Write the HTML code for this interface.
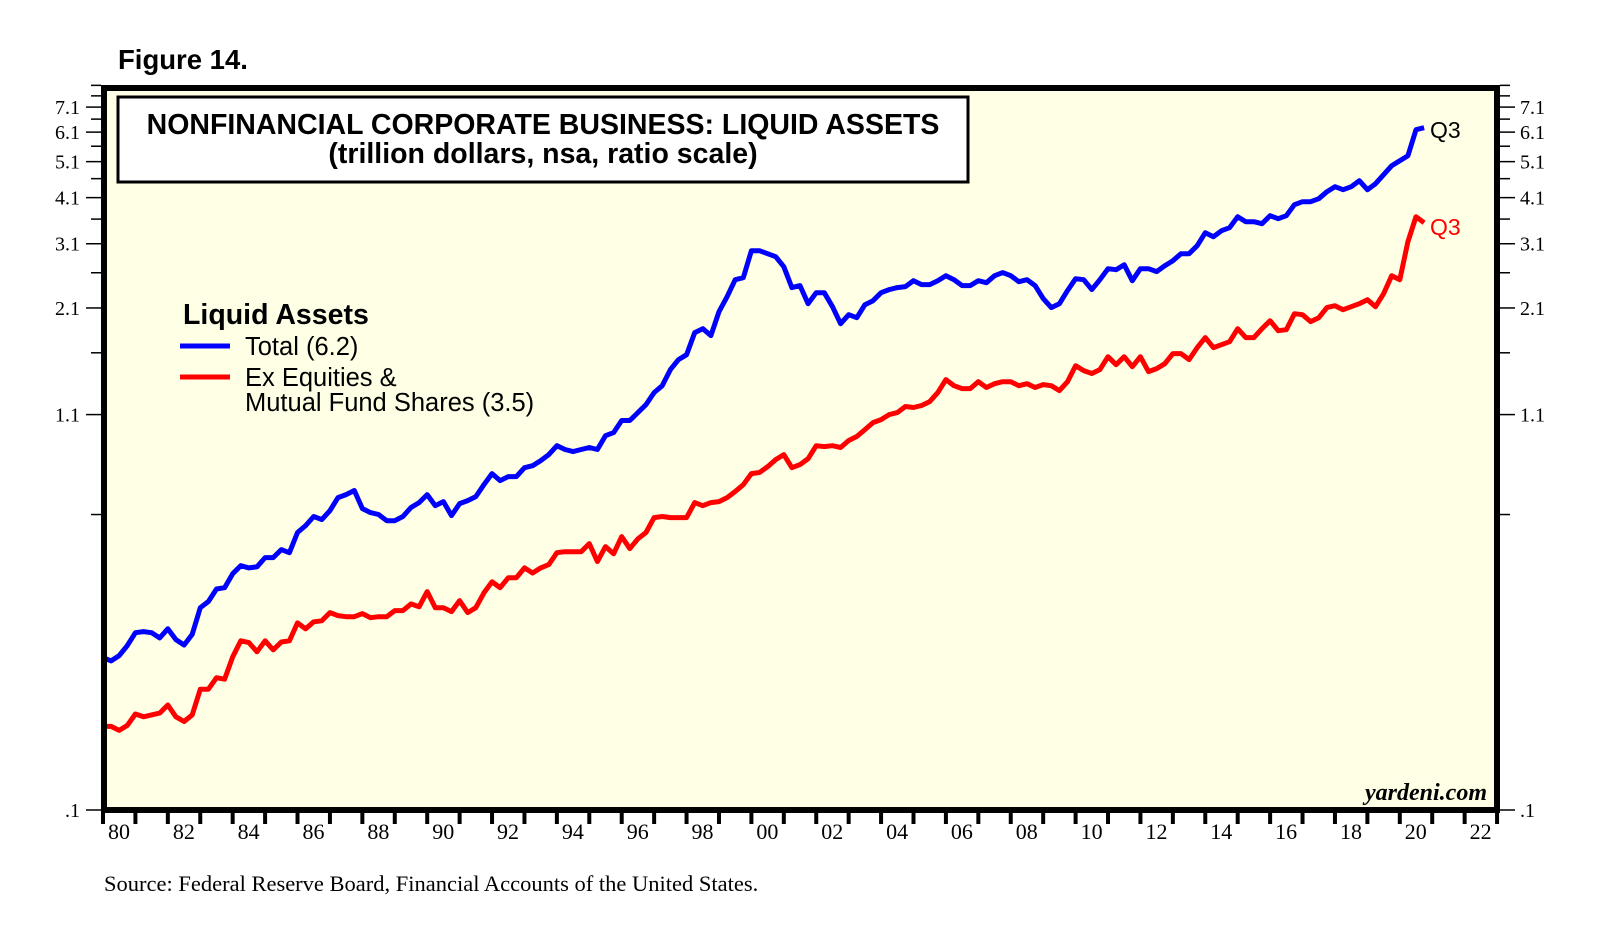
<!DOCTYPE html>
<html><head><meta charset="utf-8"><style>
html,body{margin:0;padding:0;background:#fff;}
svg{display:block;}
</style></head><body>
<svg id="chart" width="1616" height="944" viewBox="0 0 1616 944" xmlns="http://www.w3.org/2000/svg">
<text x="118" y="69" font-family="Liberation Sans, sans-serif" font-weight="bold" font-size="27.5">Figure 14.</text>
<rect x="104" y="88" width="1393" height="722" fill="#ffffe5" stroke="none"/>
<g id="grid"></g>
<g id="series"></g>
<rect x="104" y="88" width="1393" height="722" fill="none" stroke="#000" stroke-width="6"/>
<rect x="118" y="97" width="850" height="85" fill="#fff" stroke="#000" stroke-width="3"/>
<text x="543" y="134" text-anchor="middle" font-family="Liberation Sans, sans-serif" font-weight="bold" font-size="28.5">NONFINANCIAL CORPORATE BUSINESS: LIQUID ASSETS</text>
<text x="543" y="163" text-anchor="middle" font-family="Liberation Sans, sans-serif" font-weight="bold" font-size="28.5">(trillion dollars, nsa, ratio scale)</text>
<g font-family="Liberation Sans, sans-serif">
<text x="183" y="324" font-weight="bold" font-size="28.5">Liquid Assets</text>
<line x1="180" y1="346" x2="230" y2="346" stroke="#0000ff" stroke-width="5"/>
<text x="245" y="355" font-size="25.5">Total (6.2)</text>
<line x1="180" y1="377" x2="230" y2="377" stroke="#ff0000" stroke-width="5"/>
<text x="245" y="386" font-size="25.5">Ex Equities &amp;</text>
<text x="245" y="411" font-size="25.5">Mutual Fund Shares (3.5)</text>
</g>
<text x="1430" y="138" font-family="Liberation Sans, sans-serif" font-size="23" fill="#000">Q3</text>
<text x="1430" y="235" font-family="Liberation Sans, sans-serif" font-size="23" fill="#ff0000">Q3</text>
<text x="1487" y="800" text-anchor="end" font-family="Liberation Serif, serif" font-style="italic" font-weight="bold" font-size="24">yardeni.com</text>
<text x="104" y="891" font-family="Liberation Serif, serif" font-size="22.5">Source: Federal Reserve Board, Financial Accounts of the United States.</text>
</svg>
<script>
const startYear = 1980;
const yearTicks = [80,82,84,86,88,90,92,94,96,98,"00","02","04","06","08",10,12,14,16,18,20,22];
const yMajorTicks = [0.1,1.1,2.1,3.1,4.1,5.1,6.1,7.1];
const yMajorLabels = [".1","1.1","2.1","3.1","4.1","5.1","6.1","7.1"];
const yMinorTicks = [0.6,1.6,2.6,3.6,4.6,5.6,6.6,7.6,8.1];
const totalValues = [0.252,0.247,0.255,0.271,0.293,0.295,0.293,0.284,0.300,0.281,0.272,0.290,0.341,0.354,0.382,0.385,0.419,0.440,0.434,0.437,0.462,0.462,0.485,0.476,0.538,0.561,0.593,0.582,0.614,0.665,0.677,0.694,0.622,0.607,0.600,0.578,0.578,0.593,0.626,0.645,0.677,0.633,0.649,0.596,0.641,0.653,0.669,0.719,0.769,0.737,0.755,0.755,0.797,0.807,0.832,0.863,0.911,0.890,0.879,0.890,0.901,0.890,0.968,0.986,1.061,1.061,1.113,1.169,1.257,1.311,1.445,1.535,1.582,1.808,1.852,1.776,2.053,2.249,2.493,2.523,2.972,2.972,2.918,2.866,2.697,2.376,2.405,2.155,2.304,2.304,2.116,1.909,2.016,1.980,2.142,2.195,2.304,2.347,2.376,2.390,2.478,2.419,2.419,2.478,2.554,2.493,2.405,2.405,2.478,2.448,2.554,2.602,2.554,2.463,2.493,2.405,2.222,2.104,2.155,2.333,2.508,2.493,2.347,2.493,2.665,2.649,2.730,2.478,2.665,2.665,2.618,2.714,2.797,2.918,2.918,3.063,3.315,3.236,3.356,3.417,3.653,3.544,3.544,3.501,3.675,3.609,3.675,3.928,3.999,3.999,4.073,4.250,4.382,4.302,4.382,4.544,4.302,4.462,4.712,4.976,5.129,5.287,6.19,6.266];
const exEquityValues = [0.166,0.166,0.162,0.167,0.179,0.176,0.178,0.180,0.189,0.176,0.171,0.178,0.208,0.208,0.223,0.221,0.253,0.279,0.276,0.261,0.279,0.264,0.277,0.279,0.311,0.300,0.313,0.315,0.331,0.325,0.323,0.323,0.329,0.321,0.323,0.323,0.335,0.335,0.349,0.343,0.376,0.341,0.341,0.333,0.356,0.331,0.341,0.373,0.399,0.385,0.409,0.409,0.434,0.421,0.434,0.443,0.476,0.479,0.479,0.479,0.503,0.451,0.494,0.473,0.525,0.488,0.518,0.538,0.589,0.593,0.589,0.589,0.589,0.645,0.633,0.645,0.649,0.665,0.690,0.719,0.769,0.774,0.802,0.837,0.863,0.797,0.812,0.842,0.911,0.906,0.911,0.901,0.940,0.963,1.004,1.048,1.067,1.100,1.113,1.155,1.148,1.162,1.190,1.257,1.360,1.311,1.288,1.288,1.343,1.296,1.327,1.343,1.343,1.311,1.327,1.296,1.319,1.311,1.272,1.343,1.480,1.436,1.411,1.445,1.563,1.489,1.563,1.471,1.563,1.428,1.454,1.498,1.592,1.592,1.535,1.651,1.754,1.651,1.681,1.711,1.852,1.754,1.754,1.852,1.944,1.830,1.841,2.028,2.016,1.933,1.980,2.104,2.129,2.078,2.116,2.155,2.208,2.116,2.290,2.554,2.493,3.139,3.653,3.522];

const NS = "http://www.w3.org/2000/svg";
const X0 = 103, PX_PER_YEAR = 32.42;
function xScale(year){ return X0 + (year - startYear) * PX_PER_YEAR; }
function yScale(v){ return 810 - 164.9 * Math.log(v / 0.1); }
function quarterYear(i){ return startYear + i * 0.25; }
function mk(tag, attrs){ const e = document.createElementNS(NS, tag); for (const k in attrs) e.setAttribute(k, attrs[k]); return e; }

const svg = document.getElementById('chart');
yMajorTicks.forEach((v, i) => {
  const y = yScale(v);
  const l = mk('line', {x1: 86, x2: 101, y1: y, y2: y, stroke: '#000', 'stroke-width': 1.5});
  
  
  svg.appendChild(l);
  const r = mk('line', {x1: 1500, x2: 1515, y1: y, y2: y, stroke: '#000', 'stroke-width': 1.5});
  
  
  svg.appendChild(r);
  const tl = mk('text', {x: 80, y: y + 7, 'text-anchor': 'end', 'font-family': 'Liberation Serif, serif', 'font-size': 20});
  tl.textContent = yMajorLabels[i];
  
  
  svg.appendChild(tl);
  const tr = mk('text', {x: 1520, y: y + 7, 'font-family': 'Liberation Serif, serif', 'font-size': 20});
  tr.textContent = yMajorLabels[i];
  
  
  svg.appendChild(tr);
});
yMinorTicks.forEach(v => {
  const y = yScale(v);
  const l = mk('line', {x1: 91, x2: 101, y1: y, y2: y, stroke: '#000', 'stroke-width': 1.5});
  
  
  svg.appendChild(l);
  const r = mk('line', {x1: 1500, x2: 1510, y1: y, y2: y, stroke: '#000', 'stroke-width': 1.5});
  
  
  svg.appendChild(r);
});
for (let yr = 1980; yr <= 2023; yr++) {
  const x = xScale(yr);
  const t = mk('line', {x1: x, x2: x, y1: 810, y2: 824, stroke: '#000', 'stroke-width': 4});
  
  
  svg.appendChild(t);
}
yearTicks.forEach((lab, i) => {
  const yr = 1980 + i * 2;
  const t = mk('text', {x: xScale(yr) + 16, y: 839, 'text-anchor': 'middle', 'font-family': 'Liberation Serif, serif', 'font-size': 22});
  t.textContent = String(lab);
  
  
  svg.appendChild(t);
});
const sg = document.getElementById('series');
function drawSeries(vals, color, name){
  const d = vals.map((v, i) => (i ? 'L' : 'M') + xScale(quarterYear(i)).toFixed(1) + ' ' + yScale(v).toFixed(1)).join(' ');
  const p = mk('path', {d: d, fill: 'none', stroke: color, 'stroke-width': 5, 'stroke-linejoin': 'round'});
  
  
  sg.appendChild(p);
}
drawSeries(exEquityValues, '#ff0000', 'ex-equities-line');
drawSeries(totalValues, '#0000ff', 'total-line');
</script>
</body></html>
